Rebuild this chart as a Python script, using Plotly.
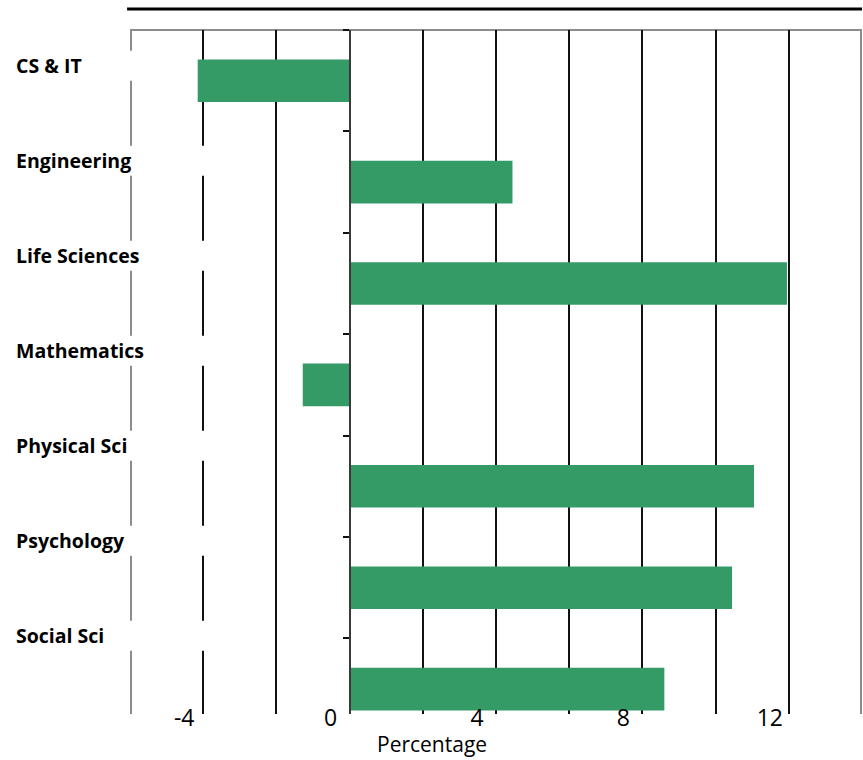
import plotly.graph_objects as go

# Percentage change by field
categories = ["CS & IT", "Engineering", "Life Sciences", "Mathematics",
              "Physical Sci", "Psychology", "Social Sci"]
values = [-4.15, 4.45, 11.95, -1.28, 11.05, 10.45, 8.6]

x_tickvals = [-4, -2, 0, 2, 4, 6, 8, 10, 12]
x_ticktext = ["-4", "", "0", "", "4", "", "8", "", "12"]
x_range = [-6, 14]

BAR_COLOR = "#349a66"
FONT = "Open Sans"

fig = go.Figure(
    go.Bar(
        x=values,
        y=categories,
        orientation="h",
        marker=dict(color=BAR_COLOR, line=dict(width=0)),
        width=0.42,
        hoverinfo="x+y",
    )
)

W, H = 863, 760
ML, MR, MT, MB = 130, 1, 30, 46
plot_w = W - ML - MR
plot_h = H - MT - MB
band_px = 101.4  # pixel height of one category band
y_range = [-0.5 + plot_h / band_px, -0.5]

# category names sit on their own evenly spaced rows, left aligned
label_top_px = 35.8
label_step_px = 95.0
annotations = []
shapes = []
for i, (name, v) in enumerate(zip(categories, values)):
    px = label_top_px + label_step_px * i
    yc = 1 - px / plot_h
    annotations.append(dict(
        text=f"<b>{name}</b>", x=-(ML - 14) / plot_w, xref="paper",
        y=yc, yref="paper", xanchor="left", yanchor="middle",
        showarrow=False, font=dict(family=FONT, size=19.5, color="#000000"),
    ))
    # white strip behind each label row, interrupting the grid
    yd = -0.5 + px / band_px
    half = 15 / band_px
    shapes.append(dict(
        type="rect", xref="x", yref="y", x0=-6.5, x1=min(-3.1, v - 0.3),
        y0=yd - half, y1=yd + half, layer="between",
        fillcolor="white", line=dict(width=0),
    ))

# frame: left, top and right edges
frame = dict(color="#8c8c8c", width=2)
inset = 1 / plot_w
shapes += [
    dict(type="line", xref="paper", yref="paper", x0=inset, x1=inset,
         y0=0, y1=1, layer="below", line=frame),
    dict(type="line", xref="paper", yref="paper", x0=0, x1=1, y0=1, y1=1,
         layer="below", line=frame),
    dict(type="line", xref="paper", yref="paper", x0=1 - inset, x1=1 - inset,
         y0=0, y1=1, layer="below", line=frame),
    # heavy rule above the chart
    dict(type="line", xref="paper", yref="paper", x0=-0.004, x1=1,
         y0=1 + 21 / plot_h, y1=1 + 21 / plot_h,
         line=dict(color="#000000", width=3)),
]

annotations.append(dict(
    text="Percentage", x=(431.5 - ML) / plot_w, xref="paper",
    y=-30 / plot_h, yref="paper", xanchor="center", yanchor="middle",
    showarrow=False, font=dict(family=FONT, size=21, color="#000000"),
))

fig.update_layout(
    width=W, height=H,
    margin=dict(l=ML, r=MR, t=MT, b=MB, pad=0),
    paper_bgcolor="white", plot_bgcolor="white",
    showlegend=False,
    bargap=0.58,
    annotations=annotations,
    shapes=shapes,
    xaxis=dict(
        range=x_range, tickvals=x_tickvals, ticktext=x_ticktext,
        showgrid=True, gridcolor="#111111", gridwidth=1.5,
        zeroline=False, showline=False, ticks="",
        ticklabelshift=-19, ticklabelstandoff=-12,
        tickfont=dict(family=FONT, size=23, color="#000000"),
    ),
    yaxis=dict(
        categoryorder="array", categoryarray=categories,
        range=y_range,
        anchor="free", position=0.3,
        showline=True, linecolor="#3a3a3a", linewidth=2,
        ticks="outside", ticklen=6, tickwidth=2, tickcolor="#111111",
        tickson="boundaries",
        showticklabels=False, showgrid=False, zeroline=False,
    ),
)

fig.write_html("out.html")
